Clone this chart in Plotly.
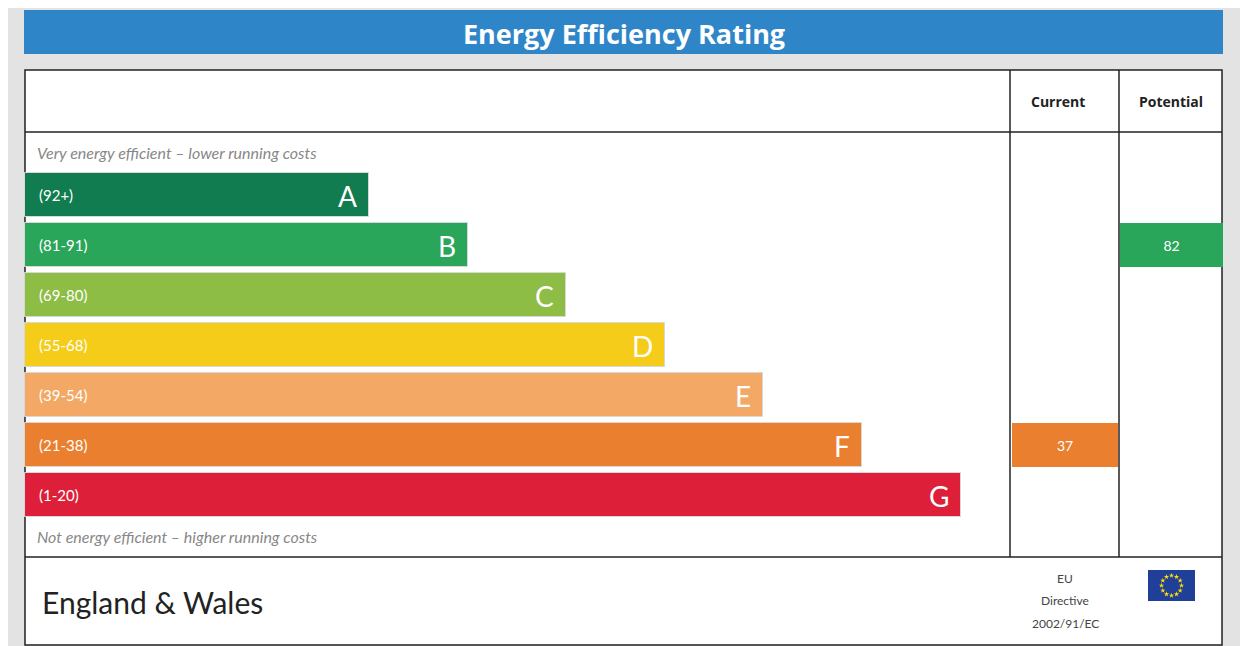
import plotly.graph_objects as go
import math

# rating bands
bands = ["A", "B", "C", "D", "E", "F", "G"]
ranges = ["(92+)", "(81-91)", "(69-80)", "(55-68)", "(39-54)", "(21-38)", "(1-20)"]
colors = ["#117c50", "#2aa65a", "#8dbd45", "#f5cc19", "#f3a865", "#ea7f30", "#de1f3a"]
current = 37
potential = 82
current_band = "F"
potential_band = "B"

W, H = 1248, 646
OFF = 8  # page body margin
left = 25
step = 98.6
first_len = 344
row_y = [195 + 50 * i for i in range(len(bands))]
lengths = [first_len + step * i for i in range(len(bands))]

fig = go.Figure()

# band bars
fig.add_trace(go.Bar(
    orientation="h", y=row_y, x=lengths, base=left, width=44,
    marker=dict(color=colors, line=dict(width=1, color="#d8d8d8")), hoverinfo="skip", showlegend=False))

# current / potential boxes
ci = bands.index(current_band)
pi = bands.index(potential_band)
fig.add_trace(go.Bar(
    orientation="h", y=[row_y[ci]], x=[106], base=1012, width=44,
    marker=dict(color=colors[ci], line=dict(width=0)), text=[str(current)],
    textposition="inside", insidetextanchor="middle",
    textfont=dict(color="white", size=14, family="Lato"), showlegend=False))
fig.add_trace(go.Bar(
    orientation="h", y=[row_y[pi]], x=[103], base=1120, width=44,
    marker=dict(color=colors[pi], line=dict(width=0)), text=[str(potential)],
    textposition="inside", insidetextanchor="middle",
    textfont=dict(color="white", size=14, family="Lato"), showlegend=False))

shapes = [
    dict(type="rect", x0=24, x1=1223, y0=10, y1=54, fillcolor="#2e86c8", line=dict(width=0), layer="below"),
    dict(type="rect", x0=25, x1=1222, y0=70, y1=645, fillcolor="white", line=dict(color="#222", width=1.5), layer="below"),
    dict(type="line", x0=25, x1=1222, y0=132, y1=132, line=dict(color="#222", width=1.5)),
    dict(type="line", x0=25, x1=1222, y0=557, y1=557, line=dict(color="#222", width=1.5)),
    dict(type="line", x0=1010, x1=1010, y0=70, y1=557, line=dict(color="#222", width=1.5)),
    dict(type="line", x0=1119, x1=1119, y0=70, y1=557, line=dict(color="#222", width=1.5)),
    dict(type="rect", x0=1148, x1=1195, y0=570, y1=601, fillcolor="#1f3f99", line=dict(width=0), layer="below"),
]

ann = [
    dict(x=624, y=33, text="<b>Energy Efficiency Rating</b>", font=dict(size=27, color="white", family="Open Sans")),
    dict(x=1058, y=101, text="<b>Current</b>", font=dict(size=14, color="#222", family="Open Sans")),
    dict(x=1171, y=101, text="<b>Potential</b>", font=dict(size=14, color="#222", family="Open Sans")),
    dict(x=35, y=152, xanchor="left", text="<i>Very energy efficient – lower running costs</i>",
         font=dict(size=16, color="#888", family="Lato")),
    dict(x=35, y=536, xanchor="left", text="<i>Not energy efficient – higher running costs</i>",
         font=dict(size=16, color="#888", family="Lato")),
    dict(x=40, y=602, xanchor="left", text="England & Wales", font=dict(size=30, color="#222", family="Lato")),
    dict(x=1065, y=578, text="EU", font=dict(size=12, color="#444", family="Lato")),
    dict(x=1065, y=600, text="Directive", font=dict(size=12, color="#444", family="Lato")),
    dict(x=1065, y=623, text="2002/91/EC", font=dict(size=12, color="#444", family="Lato")),
]
for b, r, y, L in zip(bands, ranges, row_y, lengths):
    ann.append(dict(x=37, y=y, xanchor="left", text=r, font=dict(size=15, color="white", family="Lato")))
    ann.append(dict(x=left + L - 10, y=y + 1, xanchor="right", text=b, font=dict(size=28, color="white", family="Lato")))
for a in ann:
    a.update(xref="x", yref="y", showarrow=False)
    a.setdefault("xanchor", "center")

# EU stars
sx = [1171.5 + 10 * math.cos(2 * math.pi * k / 12) for k in range(12)]
sy = [585.5 + 10 * math.sin(2 * math.pi * k / 12) for k in range(12)]
fig.add_trace(go.Scatter(x=sx, y=sy, mode="markers", marker=dict(symbol="star", size=4, color="#ffdd00"),
                         hoverinfo="skip", showlegend=False))

fig.update_layout(
    width=W, height=H, margin=dict(l=0, r=0, t=0, b=0),
    paper_bgcolor="#e3e3e3", plot_bgcolor="#e3e3e3",
    shapes=shapes, annotations=ann, bargap=0, barmode="overlay",
    xaxis=dict(range=[OFF, W + OFF], visible=False, fixedrange=True),
    yaxis=dict(range=[H + OFF, OFF], visible=False, fixedrange=True),
)
fig.write_html("out.html")
